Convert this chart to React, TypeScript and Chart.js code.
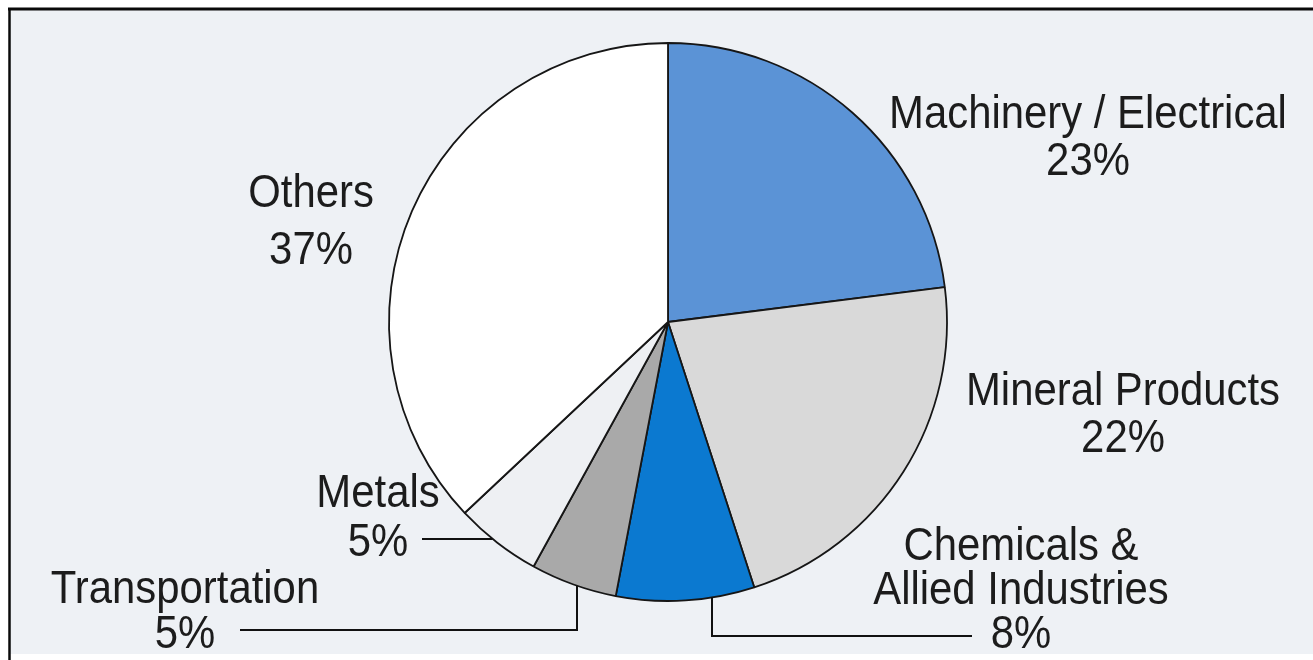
import React, { useEffect, useRef } from "react";
import { Chart, registerables } from "chart.js";

Chart.register(...registerables);

// ---- data ----
const categories = [
  "Machinery / Electrical",
  "Mineral Products",
  "Chemicals & Allied Industries",
  "Transportation",
  "Metals",
  "Others",
];
const shares = [23, 22, 8, 5, 5, 37];
const labelLines = [
  ["Machinery / Electrical"],
  ["Mineral Products"],
  ["Chemicals &", "Allied Industries"],
  ["Transportation"],
  ["Metals"],
  ["Others"],
];
const sliceColors = ["#5b93d6", "#d9d9d9", "#0b79d0", "#a9a9a9", "#eef0f3", "#ffffff"];

// ---- layout (positions of label text, first baseline, line height) ----
const labelPos = [
  { x: 1088, y: 128, lh: 47 },
  { x: 1123, y: 405, lh: 47 },
  { x: 1021, y: 560, lh: 44 },
  { x: 185, y: 603, lh: 45 },
  { x: 378, y: 507, lh: 49 },
  { x: 311, y: 207, lh: 57 },
];

const FONT_SIZE = 46;
const SCALE_X = 0.91;

function drawText(ctx: CanvasRenderingContext2D, text: string, x: number, y: number) {
  ctx.save();
  ctx.translate(x, y);
  ctx.scale(SCALE_X, 1);
  ctx.fillText(text, 0, 0);
  ctx.restore();
}

const framePlugin = {
  id: "frame",
  beforeDraw(chart: any) {
    const { ctx, width, height } = chart;
    ctx.save();
    ctx.fillStyle = "#ffffff";
    ctx.fillRect(0, 0, width, height);
    ctx.fillStyle = "#eef1f5";
    ctx.fillRect(10, 10, width - 10, height - 16);
    ctx.strokeStyle = "#0a0a0a";
    ctx.lineWidth = 3;
    ctx.beginPath();
    ctx.moveTo(8, 9);
    ctx.lineTo(width, 9);
    ctx.stroke();
    ctx.lineWidth = 2.5;
    ctx.beginPath();
    ctx.moveTo(9.5, 8);
    ctx.lineTo(9.5, height);
    ctx.stroke();
    ctx.restore();
  },
};

const labelPlugin = {
  id: "labels",
  afterDraw(chart: any) {
    const { ctx } = chart;
    const meta = chart.getDatasetMeta(0);
    const arc = meta.data[0];
    const cx = arc.x;
    const cy = arc.y;
    const r = arc.outerRadius;
    const edgeX = (y: number, side: number) => cx + side * Math.sqrt(Math.max(r * r - (y - cy) * (y - cy), 0));
    const edgeY = (x: number) => cy + Math.sqrt(Math.max(r * r - (x - cx) * (x - cx), 0));

    ctx.save();
    ctx.fillStyle = "#1c1c1c";
    ctx.font = `${FONT_SIZE}px "Liberation Sans", Arial, sans-serif`;
    ctx.textAlign = "center";
    ctx.textBaseline = "alphabetic";
    labelLines.forEach((lines, i) => {
      const p = labelPos[i];
      const all = [...lines, `${shares[i]}%`];
      all.forEach((t, k) => drawText(ctx, t, p.x, p.y + k * p.lh));
    });

    // leader lines
    ctx.strokeStyle = "#111";
    ctx.lineWidth = 2;
    // Metals
    ctx.beginPath();
    ctx.moveTo(422, 539);
    ctx.lineTo(edgeX(539, -1), 539);
    ctx.stroke();
    // Transportation
    ctx.beginPath();
    ctx.moveTo(240, 630);
    ctx.lineTo(577, 630);
    ctx.lineTo(577, edgeY(577));
    ctx.stroke();
    // Chemicals
    ctx.beginPath();
    ctx.moveTo(972, 636);
    ctx.lineTo(712, 636);
    ctx.lineTo(712, edgeY(712));
    ctx.stroke();
    ctx.restore();
  },
};

export default function App() {
  const ref = useRef<HTMLCanvasElement | null>(null);
  useEffect(() => {
    document.body.style.margin = "0";
    const canvas = ref.current;
    if (!canvas) return;
    const chart = new Chart(canvas, {
      type: "pie",
      data: {
        labels: categories,
        datasets: [
          {
            data: shares,
            backgroundColor: sliceColors,
            borderColor: "#161616",
            borderWidth: 1.8,
          },
        ],
      },
      options: {
        animation: false,
        responsive: false,
        radius: 279,
        layout: { padding: { left: 23, right: 0, top: 0, bottom: 16 } },
        plugins: {
          legend: { display: false },
          tooltip: { enabled: false },
          title: { display: false },
        },
      } as any,
      plugins: [framePlugin, labelPlugin],
    });
    return () => chart.destroy();
  }, []);
  return (
    <div style={{ width: 1313, height: 660 }}>
      <canvas ref={ref} width={1313} height={660} style={{ display: "block" }} />
    </div>
  );
}
